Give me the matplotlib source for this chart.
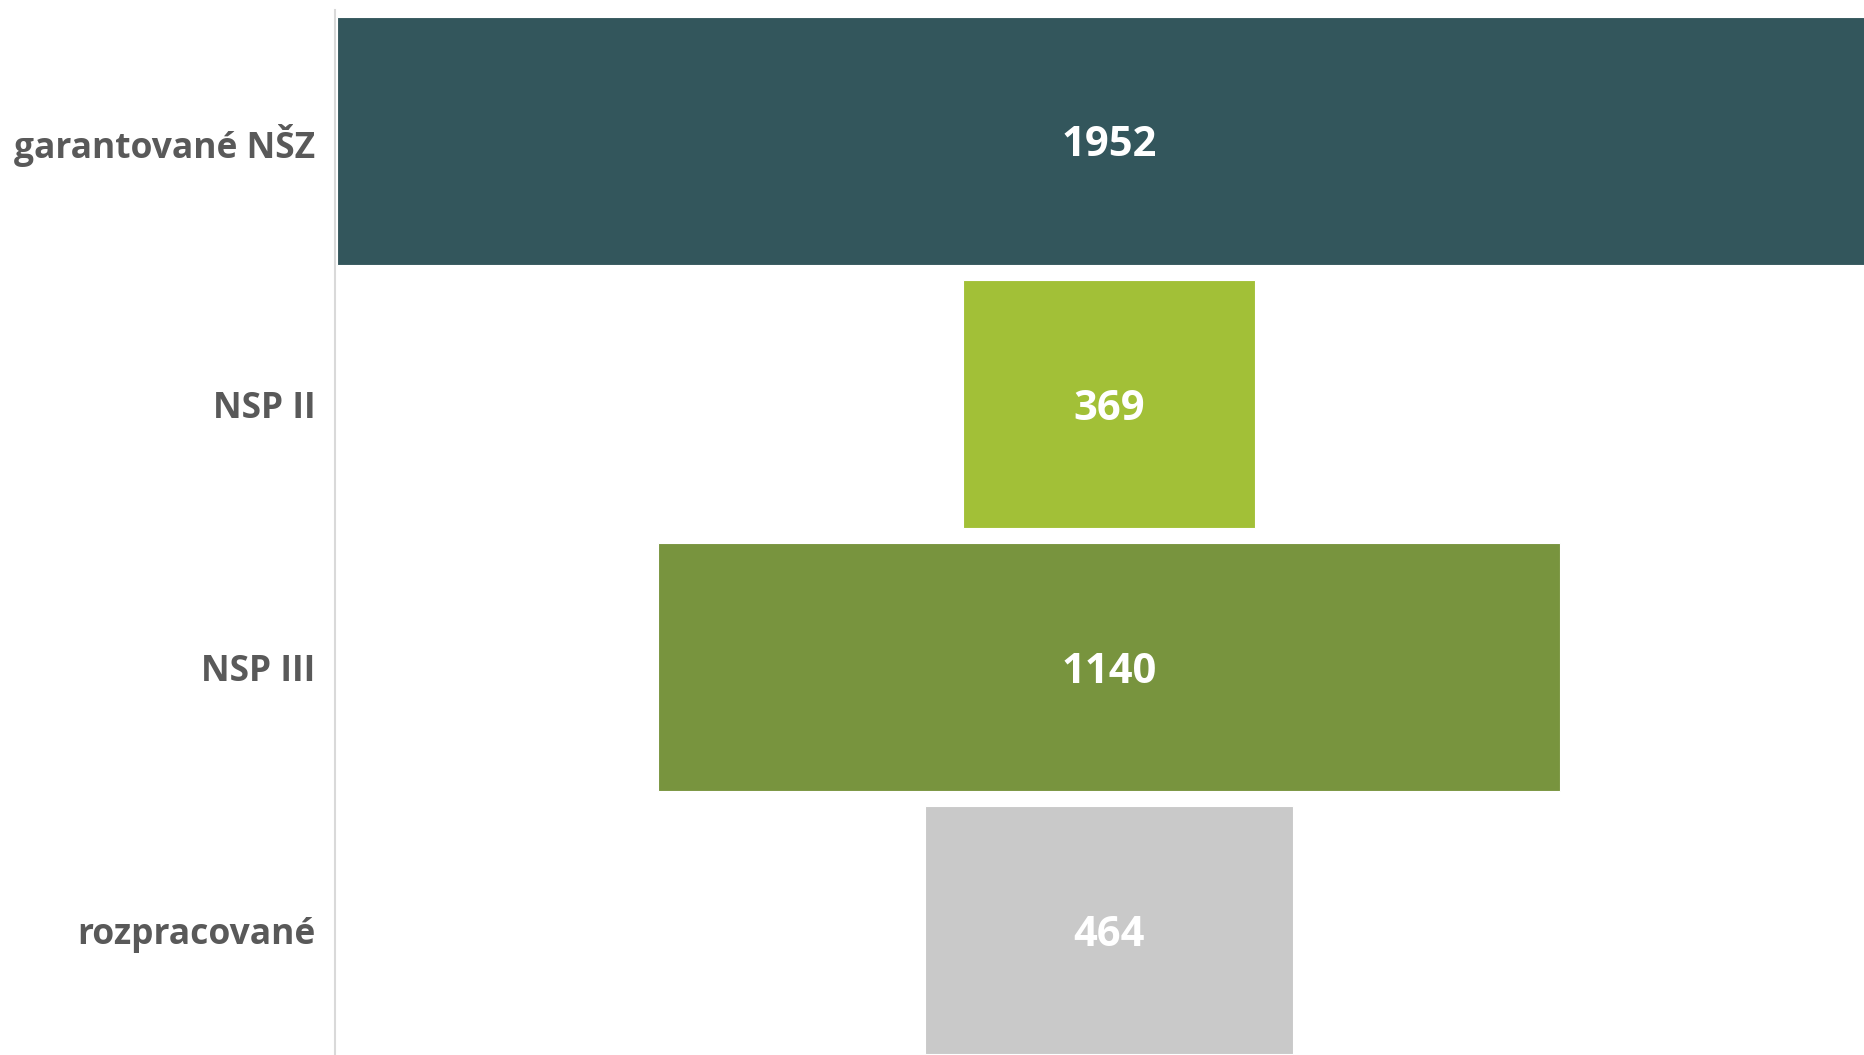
import matplotlib.pyplot as plt

categories = ["garantované NŠZ", "NSP II", "NSP III", "rozpracované"]
values = [1952, 369, 1140, 464]
colors = ["#33565C", "#A2C037", "#78943E", "#C9C9C9"]

plt.rcParams['font.family'] = ['Open Sans', 'DejaVu Sans']

fig = plt.figure(figsize=(18.65, 10.55), dpi=100)
ax = fig.add_axes([335 / 1865, 0, 1 - 335 / 1865, 1045 / 1055])

pos = list(range(len(values)))
lefts = [-v / 2 for v in values]
ax.barh(pos, values, left=lefts, height=0.943, color=colors,
        edgecolor="#FFFFFF", linewidth=0.8)

for i, v in enumerate(values):
    ax.text(0, i, str(v), ha="center", va="center_baseline", color="white",
            fontsize=30, fontweight="bold")

ax.set_xlim(-978, 955)
ax.set_ylim(3.475, -0.498)
ax.set_yticks(pos)
ax.set_yticklabels(categories, fontsize=25.5, fontweight="bold", color="#595959")
ax.tick_params(axis="y", length=0, pad=14)
ax.set_xticks([])

for s in ["top", "right", "bottom"]:
    ax.spines[s].set_visible(False)
ax.spines["left"].set_color("#D9D9D9")
ax.spines["left"].set_linewidth(1.5)

fig.savefig("out.png", dpi=100)
